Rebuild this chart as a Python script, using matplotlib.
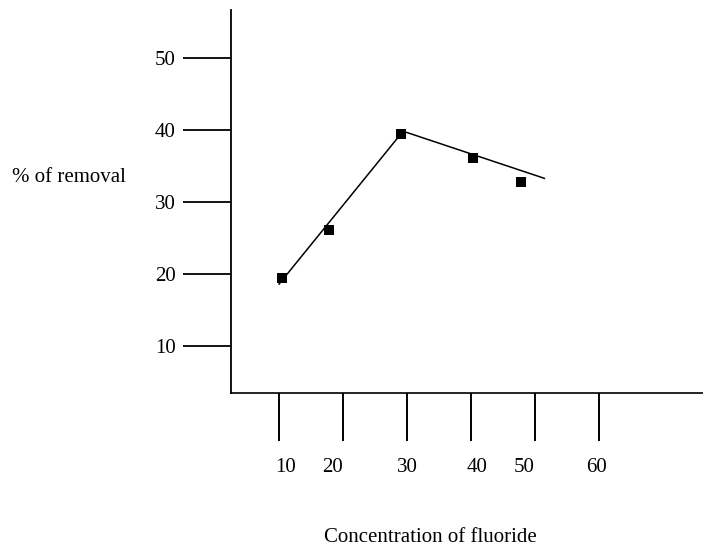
import matplotlib
matplotlib.use('Agg')
import matplotlib.pyplot as plt

plt.rcParams['font.family'] = ['Liberation Serif', 'DejaVu Serif']

# measured points
conc = [10.4, 17.8, 29.1, 40.3, 47.9]
removal = [19.4, 26.1, 39.4, 36.1, 32.8]

# hand-drawn trend line (two segments)
fit_x = [10.0, 29.4, 51.5]
fit_y = [18.6, 39.85, 33.3]

xticks = [10, 20, 30, 40, 50, 60]
yticks = [10, 20, 30, 40, 50]
xtick_labels = ['10', '20', '30', '40', '50', '60']
# labels in the original are not centred on their ticks
xlabel_shift = [1.05, -1.6, 0.0, 0.9, -1.7, -0.3]

fig = plt.figure(figsize=(7.03, 5.48), dpi=100)
ax = fig.add_axes([231 / 703, 1 - 393.3 / 548, 1 - 231 / 703, (393.3 - 10) / 548])

ax.plot(fit_x, fit_y, color='black', lw=1.1)
ax.plot(conc, removal, linestyle='none', marker='s', color='black', markersize=6.6, markeredgewidth=0)

ax.set_xlim(2.49, 76.3)
ax.set_ylim(3.42, 56.7)

ax.spines['top'].set_visible(False)
ax.spines['right'].set_visible(False)
ax.spines['left'].set_linewidth(1.3)
ax.spines['bottom'].set_linewidth(1.2)

ax.set_yticks(yticks)
ax.set_yticklabels([str(v) for v in yticks])
ax.tick_params(axis='y', direction='out', length=34.6, width=1.3, pad=5.4, labelsize=15)

ax.set_xticks(xticks)
ax.set_xticklabels([])
ax.tick_params(axis='x', direction='out', length=34.8, width=1.4)
for xv, lab, dx in zip(xticks, xtick_labels, xlabel_shift):
    ax.text(xv + dx, -7.48, lab, ha='center', va='baseline', fontsize=15, clip_on=False)

fig.text(12 / 703, 1 - 177 / 548, '% of removal', ha='left', va='center', fontsize=15)
fig.text(430 / 703, 1 - 537 / 548, 'Concentration of fluoride', ha='center', va='center', fontsize=15)

fig.savefig('out.png', dpi=100)
